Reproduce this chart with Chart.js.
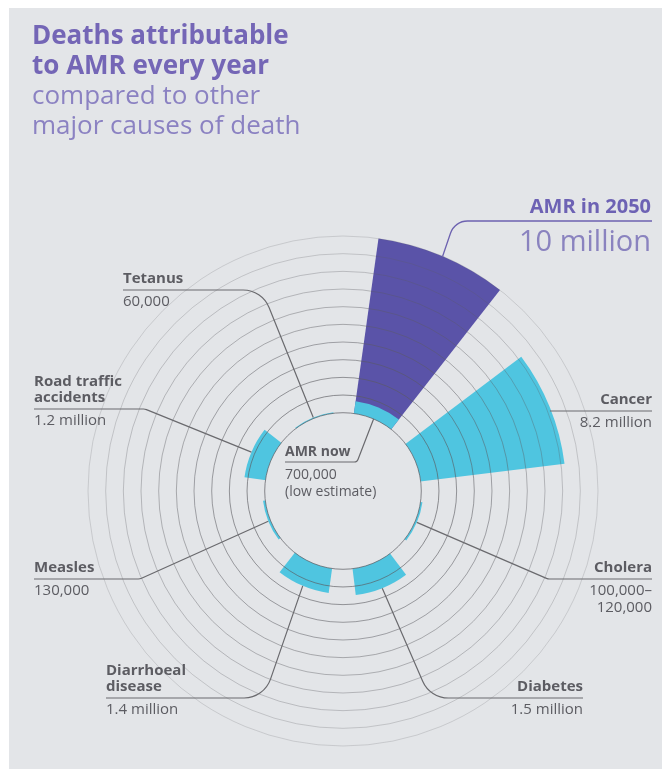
<!DOCTYPE html>
<html>
<head>
<meta charset="utf-8">
<script src="https://cdn.jsdelivr.net/npm/chart.js@4.4.1/dist/chart.umd.min.js"></script>
<style>
  html, body { margin: 0; padding: 0; background: #fff; }
  canvas { display: block; }
</style>
</head>
<body>
<canvas id="amrChart" width="662" height="771"></canvas>
<script>
// --- Data (deaths per year, millions) ---
const categories = ['AMR in 2050', 'Cancer', 'Cholera', 'Diabetes', 'Diarrhoeal disease', 'Measles', 'Road traffic accidents', 'Tetanus'];
const deathsMillions = [10, 8.2, 0.11, 1.5, 1.4, 0.13, 1.2, 0.06];
const amrNowMillions = [0.7, 0, 0, 0, 0, 0, 0, 0];
const ringTicks = [0, 1, 2, 3, 4, 5, 6, 7, 8, 9, 10];

// --- Look ---
const PANEL = '#e3e5e8';
const PURPLE = '#5a53a8';
const CYAN = '#4fc5e0';
const NONE = 'rgba(0,0,0,0)';
const TEXT = '#5c5c62';
const LEADER = '#6a6a6e';
const BAR_DEG = 30;
const GAP_DEG = 15;
const START_DEG = 8;

// every bar is followed by an empty gap slice
const labels = [], mainData = [], nowData = [], angles = [], mainColors = [], nowColors = [];
categories.forEach((c, i) => {
    labels.push(c, '');
    mainData.push(deathsMillions[i], 0);
    nowData.push(amrNowMillions[i], 0);
    angles.push(BAR_DEG, GAP_DEG);
    mainColors.push(i === 0 ? PURPLE : CYAN, NONE);
    nowColors.push(amrNowMillions[i] > 0 ? CYAN : NONE, NONE);
});

const midAngle = (i) => START_DEG + i * (BAR_DEG + GAP_DEG) + BAR_DEG / 2;

const polar = (scale, value, deg) => {
    const r = scale.getDistanceFromCenterForValue(value);
    const a = deg * Math.PI / 180;
    return { x: scale.xCenter + r * Math.sin(a), y: scale.yCenter - r * Math.cos(a) };
};

// label blocks: text anchor, leader line level and bend
const callouts = [
    { idx: 1, align: 'right', x: 652, lineY: 411, name: ['Cancer'], value: ['8.2 million'], via: [] },
    { idx: 2, align: 'right', x: 652, lineY: 579, name: ['Cholera'], value: ['100,000–', '120,000'], via: [{ x: 548, y: 579, r: 8 }] },
    { idx: 3, align: 'right', x: 583, lineY: 698, name: ['Diabetes'], value: ['1.5 million'], via: [{ x: 430, y: 698, r: 28 }] },
    { idx: 4, align: 'left', x: 106, lineY: 698, name: ['Diarrhoeal', 'disease'], value: ['1.4 million'], via: [{ x: 264, y: 698, r: 28 }] },
    { idx: 5, align: 'left', x: 34, lineY: 579, name: ['Measles'], value: ['130,000'], via: [{ x: 140, y: 579, r: 8 }] },
    { idx: 6, align: 'left', x: 34, lineY: 409, name: ['Road traffic', 'accidents'], value: ['1.2 million'], via: [{ x: 145, y: 409, r: 8 }] },
    { idx: 7, align: 'left', x: 123, lineY: 290, name: ['Tetanus'], value: ['60,000'], via: [{ x: 262, y: 290, r: 28 }] }
];

const drawLeader = (ctx, pts, color, width) => {
    ctx.save();
    ctx.strokeStyle = color;
    ctx.lineWidth = width;
    ctx.beginPath();
    ctx.moveTo(pts[0].x, pts[0].y);
    for (let i = 1; i < pts.length - 1; i++) {
        ctx.arcTo(pts[i].x, pts[i].y, pts[i + 1].x, pts[i + 1].y, pts[i].r || 0);
    }
    const last = pts[pts.length - 1];
    ctx.lineTo(last.x, last.y);
    ctx.stroke();
    ctx.restore();
};

const panelPlugin = {
    id: 'panel',
    beforeDraw(chart) {
        const ctx = chart.ctx;
        ctx.save();
        ctx.fillStyle = '#fff';
        ctx.fillRect(0, 0, chart.width, chart.height);
        ctx.fillStyle = PANEL;
        ctx.fillRect(9, 8, chart.width - 9, chart.height - 10);
        ctx.restore();
    }
};

// bars start at the hole edge, so cover their inner part
const holePlugin = {
    id: 'hole',
    afterDatasetsDraw(chart) {
        const s = chart.scales.r;
        const ctx = chart.ctx;
        ctx.save();
        ctx.fillStyle = PANEL;
        ctx.beginPath();
        ctx.arc(s.xCenter, s.yCenter, s.getDistanceFromCenterForValue(0), 0, Math.PI * 2);
        ctx.fill();
        ctx.restore();
    }
};

const annotatePlugin = {
    id: 'annotate',
    afterDraw(chart) {
        const s = chart.scales.r;
        const ctx = chart.ctx;
        ctx.save();
        ctx.textBaseline = 'alphabetic';

        // title
        ctx.textAlign = 'left';
        ctx.fillStyle = '#7466b6';
        ctx.font = 'bold 26px "Open Sans"';
        ctx.fillText('Deaths attributable', 32, 44);
        ctx.fillText('to AMR every year', 32, 74);
        ctx.fillStyle = '#8b82c2';
        ctx.font = '26px "Open Sans"';
        ctx.fillText('compared to other', 32, 104);
        ctx.fillText('major causes of death', 32, 134);

        // AMR in 2050
        const top = polar(s, deathsMillions[0], midAngle(0));
        drawLeader(ctx, [top, { x: top.x + 12, y: 221, r: 18 }, { x: 652, y: 221 }], '#6d62b0', 1.3);
        ctx.textAlign = 'right';
        ctx.fillStyle = '#6d62b4';
        ctx.font = 'bold 20px "Open Sans"';
        ctx.fillText('AMR in 2050', 651, 213);
        ctx.fillStyle = '#8a83bf';
        ctx.font = '29px "Open Sans"';
        ctx.fillText('10 million', 651, 251);

        // other causes
        callouts.forEach(c => {
            const start = polar(s, deathsMillions[c.idx], midAngle(c.idx));
            const pts = [start].concat(c.via);
            pts.push({ x: c.x, y: c.lineY });
            if (c.via.length === 0) pts[0] = { x: start.x, y: c.lineY };
            drawLeader(ctx, pts, LEADER, 1.2);

            ctx.textAlign = c.align;
            ctx.fillStyle = TEXT;
            ctx.font = 'bold 15px "Open Sans"';
            c.name.forEach((t, k) => {
                ctx.fillText(t, c.x, c.lineY - 7 - (c.name.length - 1 - k) * 16);
            });
            ctx.font = '15px "Open Sans"';
            c.value.forEach((t, k) => {
                ctx.fillText(t, c.x, c.lineY + 16 + k * 17);
            });
        });

        // AMR now, inside the hole
        const now = polar(s, 0, midAngle(0));
        drawLeader(ctx, [now, { x: 357, y: 462, r: 4 }, { x: 285, y: 462 }], LEADER, 1.2);
        ctx.textAlign = 'left';
        ctx.fillStyle = TEXT;
        ctx.font = 'bold 14px "Open Sans"';
        ctx.fillText('AMR now', 285, 456);
        ctx.font = '14px "Open Sans"';
        ctx.fillText('700,000', 285, 479);
        ctx.fillText('(low estimate)', 285, 496);
        ctx.restore();
    }
};

new Chart(document.getElementById('amrChart'), {
    type: 'polarArea',
    data: {
        labels: labels,
        datasets: [
            { label: 'AMR now', data: nowData, backgroundColor: nowColors, borderWidth: 0, angle: angles },
            { label: 'Deaths per year', data: mainData, backgroundColor: mainColors, borderWidth: 0, angle: angles }
        ]
    },
    options: {
        responsive: false,
        maintainAspectRatio: false,
        animation: false,
        layout: { padding: { left: 88, top: 236, right: 64, bottom: 25 } },
        plugins: { legend: { display: false }, tooltip: { enabled: false } },
        scales: {
            r: {
                min: -4.43,
                max: 10,
                startAngle: START_DEG,
                afterBuildTicks: (scale) => { scale.ticks = ringTicks.map(v => ({ value: v })); },
                ticks: { display: false },
                pointLabels: { display: false },
                angleLines: { display: false },
                grid: {
                    z: 1,
                    circular: true,
                    lineWidth: 1,
                    color: (ctx) => 'rgba(90,90,95,' + (0.7 - ctx.index * 0.05).toFixed(2) + ')'
                }
            }
        }
    },
    plugins: [panelPlugin, holePlugin, annotatePlugin]
});
</script>
</body>
</html>
